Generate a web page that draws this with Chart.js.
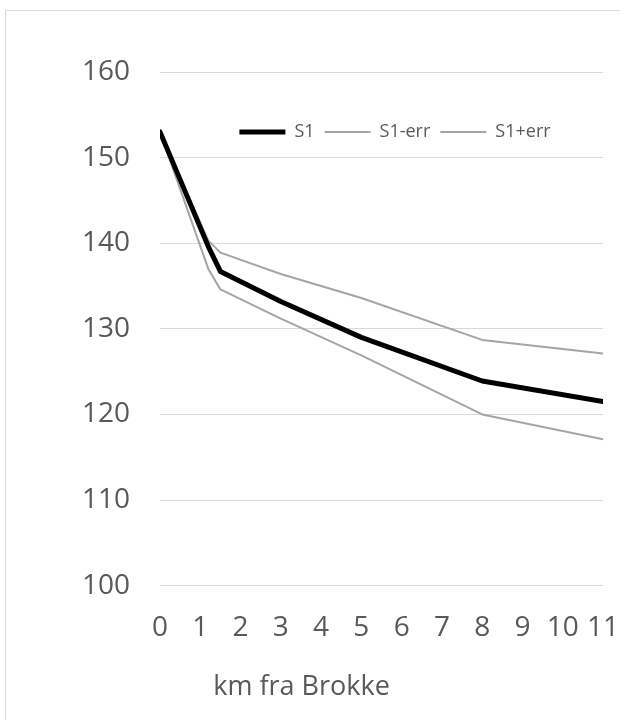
<!DOCTYPE html>
<html>
<head>
<meta charset="utf-8">
<script src="https://cdn.jsdelivr.net/npm/chart.js@4"></script>
<style>
  html, body { margin: 0; padding: 0; background: #fff; overflow: hidden; }
  #frame { position: absolute; left: 5px; top: 10px; width: 700px; height: 800px; border: 1px solid #d9d9d9; }
  #wrap { position: absolute; left: 0; top: 0; width: 620px; height: 720px; }
</style>
</head>
<body>
<div id="frame"></div>
<div id="wrap"><canvas id="mychart" width="620" height="720"></canvas></div>
<script>
// km from Brokke
const km = [0, 1.2, 1.5, 3, 5, 8, 11];
const s1 = [153, 139.6, 136.7, 133.2, 129.0, 123.9, 121.5];
const s1Minus = [153, 137.0, 134.6, 131.2, 126.9, 120.0, 117.1];
const s1Plus = [153, 140.3, 138.9, 136.4, 133.6, 128.7, 127.1];
const seriesNames = ['S1', 'S1-err', 'S1+err'];

const toPoints = (ys) => km.map((x, i) => ({ x: x, y: ys[i] }));

const textColor = '#595959';
const gridColor = '#d9d9d9';

// move the legend down into the plot area, like the Excel original
const legendInside = {
    id: 'legendInside',
    afterLayout(chart) {
        const lg = chart.legend;
        const area = chart.chartArea;
        const h = lg.bottom - lg.top;
        lg.top = area.top + 41;
        lg.bottom = lg.top + h;
        lg.left = area.left + 27;
        lg.right = area.right;
    }
};

const ctx = document.getElementById('mychart').getContext('2d');
const myChart = new Chart(ctx, {
    type: 'line',
    data: {
        datasets: [
            { label: seriesNames[0], data: toPoints(s1), borderColor: '#000000', backgroundColor: '#000000', borderWidth: 5 },
            { label: seriesNames[1], data: toPoints(s1Minus), borderColor: '#a5a5a5', backgroundColor: '#a5a5a5', borderWidth: 2 },
            { label: seriesNames[2], data: toPoints(s1Plus), borderColor: '#a5a5a5', backgroundColor: '#a5a5a5', borderWidth: 2 }
        ]
    },
    options: {
        responsive: false,
        animation: false,
        layout: { padding: { top: 34, right: 17, left: 0, bottom: 0 } },
        elements: {
            point: { radius: 0, hoverRadius: 0, pointStyle: 'line' },
            line: { tension: 0, borderJoinStyle: 'round', borderCapStyle: 'round', fill: false }
        },
        scales: {
            x: {
                type: 'linear',
                min: 0,
                max: 11,
                grid: { display: false, drawTicks: false },
                border: { display: false },
                ticks: { stepSize: 1, padding: 26, color: textColor, font: { family: 'Open Sans', size: 28 } },
                afterFit: (scale) => {
                    scale.height = 86;
                    scale.paddingRight = 0;
                    scale.paddingLeft = 0;
                }
            },
            y: {
                min: 100,
                max: 160,
                grid: { color: gridColor, lineWidth: 1, drawTicks: false },
                border: { display: false },
                ticks: { stepSize: 10, padding: 30, color: textColor, font: { family: 'Open Sans', size: 28 } },
                afterFit: (scale) => { scale.width = 160; }
            }
        },
        plugins: {
            tooltip: { enabled: false },
            legend: {
                position: 'top',
                align: 'center',
                labels: {
                    usePointStyle: true,
                    pointStyle: 'line',
                    pointStyleWidth: 46,
                    padding: 10,
                    color: textColor,
                    font: { family: 'Open Sans', size: 18 }
                }
            },
            title: {
                display: true,
                position: 'bottom',
                text: 'km fra Brokke',
                color: textColor,
                font: { family: 'Open Sans', size: 27, weight: 'normal' },
                padding: { top: 0, bottom: 16 }
            }
        }
    },
    plugins: [legendInside]
});
</script>
</body>
</html>
